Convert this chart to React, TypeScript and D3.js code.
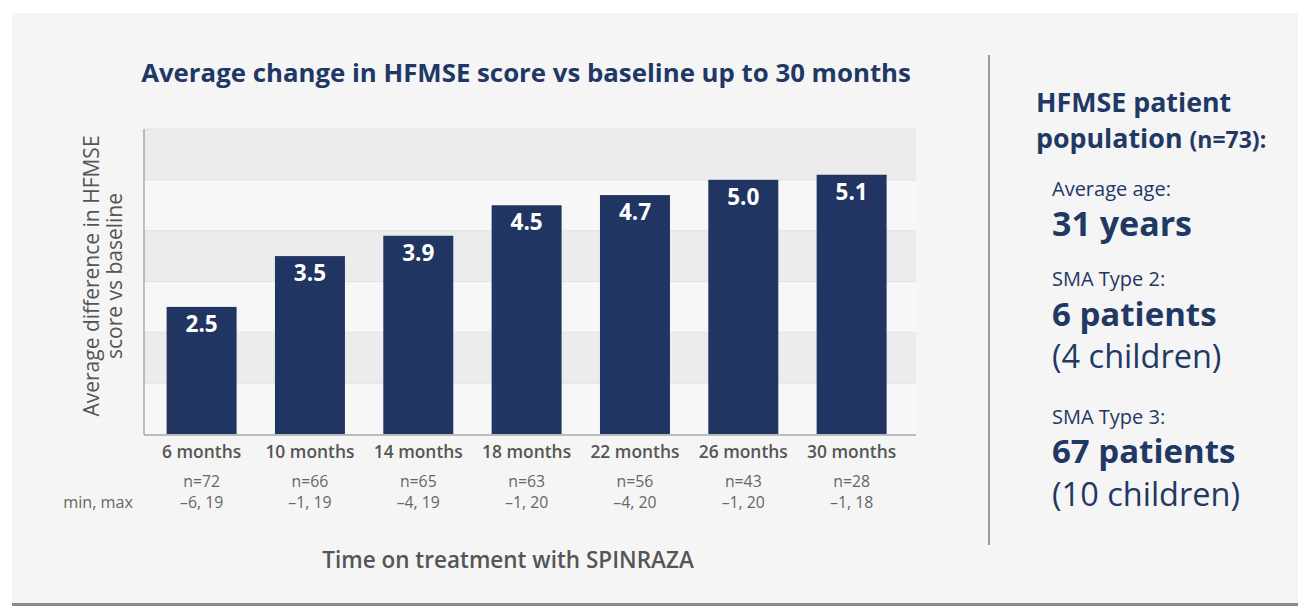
import React from "react";
import * as d3 from "d3";

const categories = ["6 months", "10 months", "14 months", "18 months", "22 months", "26 months", "30 months"];
const values = [2.5, 3.5, 3.9, 4.5, 4.7, 5.0, 5.1];
const nLabels = ["n=72", "n=66", "n=65", "n=63", "n=56", "n=43", "n=28"];
const minMax = ["\u20136, 19", "\u20131, 19", "\u20134, 19", "\u20131, 20", "\u20134, 20", "\u20131, 20", "\u20131, 18"];
const yTicks = [0, 1, 2, 3, 4, 5, 6];

const W = 1298;
const H = 615;
const NAVY = "#213563";
const GRAY = "#555555";
const FONT = "'Open Sans', Lato, sans-serif";

export default function App() {
  const x = d3.scaleBand<string>().domain(categories).range([144, 916]).paddingInner(0.354).paddingOuter(0.24).align(0.435);
  const y = d3.scaleLinear().domain([0, 6]).range([434, 129]);

  return (
    <svg width={W} height={H} style={{ position: "absolute", left: 0, top: 0 }} fontFamily={FONT}>
      <rect x={0} y={0} width={W} height={H} fill="#ffffff" />
      <rect x={12} y={13} width={W - 12} height={590} fill="#f5f5f5" />
      <rect x={12} y={603} width={W - 12} height={3} fill="#8a8a8a" />

      {/* bands */}
      {yTicks.slice(0, -1).map((t, i) => (
        <rect key={"b" + t} x={144} y={y(t + 1)} width={916 - 144} height={y(t) - y(t + 1)} fill={i % 2 === 1 ? "#ececec" : "#f7f7f7"} />
      ))}
      {yTicks.slice(1).map((t) => (
        <line key={"g" + t} x1={144} x2={916} y1={y(t)} y2={y(t)} stroke="#e2e2e2" strokeWidth={1} />
      ))}
      <line x1={144} x2={144} y1={129} y2={435} stroke="#9a9a9a" strokeWidth={1.2} />
      <line x1={144} x2={916} y1={435} y2={435} stroke="#a8a8a8" strokeWidth={1.5} />

      {/* bars */}
      {categories.map((c, i) => (
        <g key={c}>
          <rect x={x(c)} y={y(values[i])} width={x.bandwidth()} height={y(0) - y(values[i])} fill={NAVY} />
          <text x={(x(c) as number) + x.bandwidth() / 2} y={y(values[i]) + 25} textAnchor="middle" fill="#ffffff" fontWeight={700} fontSize={22.5}>
            {values[i].toFixed(1)}
          </text>
          <text x={(x(c) as number) + x.bandwidth() / 2} y={458} textAnchor="middle" fill={GRAY} fontWeight={600} fontSize={17.4}>
            {c}
          </text>
          <text x={(x(c) as number) + x.bandwidth() / 2} y={487} textAnchor="middle" fill="#666666" fontSize={15.8}>
            {nLabels[i]}
          </text>
          <text x={(x(c) as number) + x.bandwidth() / 2} y={508} textAnchor="middle" fill="#666666" fontSize={15.8}>
            {minMax[i]}
          </text>
        </g>
      ))}
      <text x={133} y={508} textAnchor="end" fill="#666666" fontSize={16.2}>min, max</text>

      {/* title */}
      <text x={526} y={82} textAnchor="middle" fill="#1f3864" fontWeight={700} fontSize={25.8}>
        Average change in HFMSE score vs baseline up to 30 months
      </text>

      {/* y label */}
      <g transform="translate(103,276) rotate(-90)">
        <text x={0} y={-4} textAnchor="middle" fill={GRAY} fontSize={21}>Average difference in HFMSE</text>
        <text x={0} y={19} textAnchor="middle" fill={GRAY} fontSize={21}>score vs baseline</text>
      </g>

      {/* x title */}
      <text x={508} y={568} textAnchor="middle" fill={GRAY} fontWeight={600} fontSize={22.5}>Time on treatment with SPINRAZA</text>

      {/* divider */}
      <line x1={989} x2={989} y1={55} y2={545} stroke="#999999" strokeWidth={2} />

      {/* right panel */}
      <g fill="#1f3864">
        <text x={1036} y={112} fontWeight={700} fontSize={26.8}>HFMSE patient</text>
        <text x={1036} y={148} fontWeight={700} fontSize={26.8}>
          population <tspan fontSize={23}>(n=73):</tspan>
        </text>
        <text x={1052} y={196} fontSize={20}>Average age:</text>
        <text x={1052} y={236} fontWeight={700} fontSize={34}>31 years</text>
        <text x={1052} y={286} fontSize={20}>SMA Type 2:</text>
        <text x={1052} y={326} fontWeight={700} fontSize={33}>6 patients</text>
        <text x={1052} y={368} fontSize={32.5}>(4 children)</text>
        <text x={1052} y={424} fontSize={20}>SMA Type 3:</text>
        <text x={1052} y={463} fontWeight={700} fontSize={33}>67 patients</text>
        <text x={1052} y={506} fontSize={32.5}>(10 children)</text>
      </g>
    </svg>
  );
}
